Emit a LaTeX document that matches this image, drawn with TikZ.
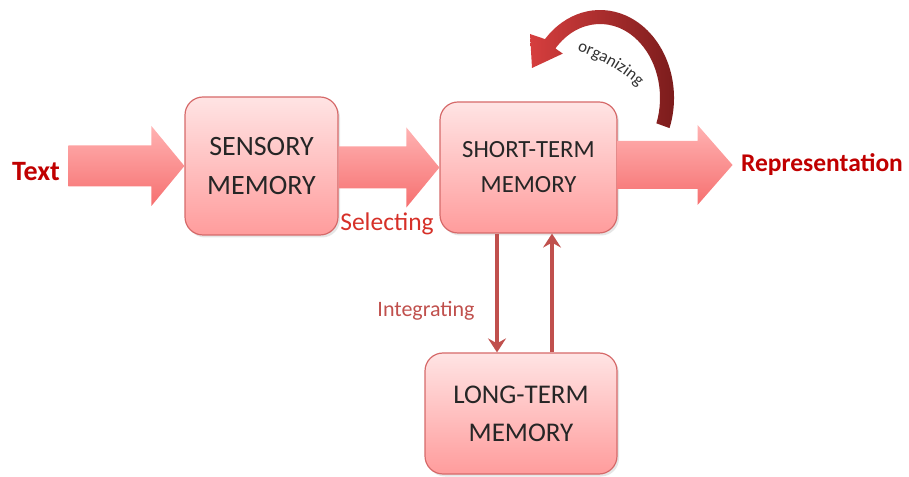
\documentclass[tikz,border=0pt]{standalone}
\usepackage{fontspec}
\setmainfont{Carlito}
\usetikzlibrary{arrows.meta,calc,shadows,decorations.text}

\definecolor{boxline}{RGB}{214,106,106}
\definecolor{boxtop}{RGB}{255,228,228}
\definecolor{boxbottom}{RGB}{255,156,156}
\definecolor{arrowtop}{RGB}{255,178,178}
\definecolor{arrowbottom}{RGB}{246,112,112}
\definecolor{endred}{RGB}{192,0,0}
\definecolor{selred}{RGB}{214,48,40}
\definecolor{linkred}{RGB}{192,80,77}
\definecolor{curvelight}{RGB}{214,62,62}
\definecolor{curvedark}{RGB}{118,26,26}

\newcommand{\orgfont}{\fontsize{17}{17}\selectfont\color{black!80}}

% block arrow: #1 start, #2 tip, #3 half shaft, #4 half head, #5 head length
\newcommand{\blockarrow}[5]{%
  \shade[top color=arrowtop, bottom color=arrowbottom]
    let \p1 = (#1), \p2 = (#2) in
    (\x1,\y2+#3) -- (\x2-#5,\y2+#3) -- (\x2-#5,\y2+#4) -- (\x2,\y2)
    -- (\x2-#5,\y2-#4) -- (\x2-#5,\y2-#3) -- (\x1,\y2-#3) -- cycle;}

\begin{document}
\begin{tikzpicture}[x=1pt, y=1pt,
    memory/.style = {draw=boxline, line width=1.2pt, rounded corners=18pt,
      top color=boxtop, bottom color=boxbottom, text=black!85,
      align=center, inner sep=0pt, font=\fontsize{27}{38}\selectfont,
      drop shadow={shadow xshift=2pt, shadow yshift=-2.5pt, opacity=0.2}},
    ends/.style = {text=endred, font=\fontsize{25.5}{30}\selectfont\bfseries},
    action/.style = {font=\fontsize{25.5}{28}\selectfont},
    link/.style = {draw=linkred, line width=3.5pt,
      -{Stealth[length=14pt, width=18pt, inset=5pt]}}]
    \useasboundingbox (0,0) rectangle (909,476);

    % Stores
    \node[ends, font=\fontsize{28}{30}\selectfont\bfseries] (text) at (36,304) {Text};
    \node[memory, minimum width=153, minimum height=138,
          font=\fontsize{28}{39}\selectfont] (sensory) at (261.5,310) {SENSORY\\MEMORY};
    \node[memory, minimum width=177, minimum height=131,
          font=\fontsize{24.7}{35}\selectfont] (short) at (528.5,308.5) {SHORT-TERM\\MEMORY};
    \node[memory, minimum width=192, minimum height=121] (long) at (521,62.5) {LONG-TERM\\MEMORY};
    \node[ends] (repr) at (822,311) {Representation};

    % Flow arrows
    \blockarrow{[xshift=5pt]text.east}{sensory.west}{20.5}{40}{33}
    \blockarrow{sensory.east}{short.west}{21}{40}{33}
    \blockarrow{short.east}{[xshift=-5pt]repr.west}{24}{40}{35}

    \node[action, text=selred] (sel) at (387,252) {Selecting};

    % Between short-term and long-term
    \draw[link] ([xshift=-31.5pt]short.south) -- ([xshift=-24pt]long.north);
    \draw[link] ([xshift=31pt]long.north) -- ([xshift=23.5pt]short.south);
    \node[action, text=linkred, font=\fontsize{22}{26}\selectfont] (integ) at (426,165) {Integrating};

    % Organizing loop
    \coordinate (orgc) at (600,378);
    \shade[left color=curvelight, right color=curvedark]
      ($(orgc)+(-20:74 and 88)$) arc[start angle=-20, end angle=138, x radius=74, y radius=88]
      -- (530,442) -- (532,408) -- (562.8,422.4)
      -- ($(orgc)+(138:60 and 74)$) arc[start angle=138, end angle=-20, x radius=60, y radius=74]
      -- cycle;
    \path[decorate, decoration={text along path, text align=center,
        text={|\orgfont|organizing}}]
      (564,429) .. controls (592,422) and (624,406) .. (648,380);
\end{tikzpicture}
\end{document}
